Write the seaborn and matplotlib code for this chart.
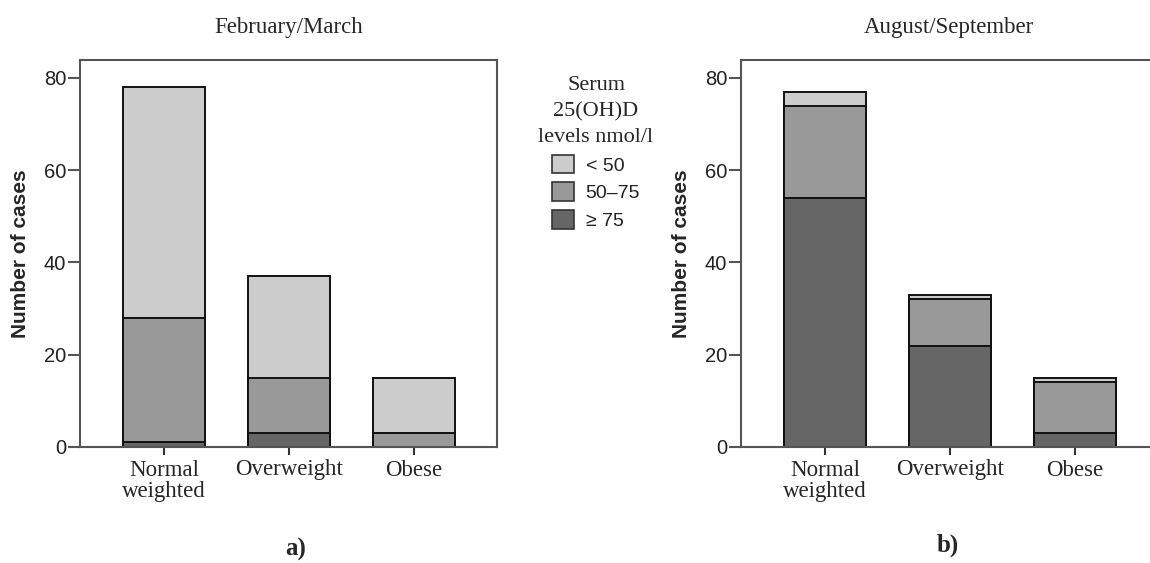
import matplotlib
matplotlib.use("Agg")
import matplotlib.pyplot as plt
from matplotlib.patches import Patch
import seaborn as sns
import pandas as pd
import numpy as np

categories = ["Normal\nweighted", "Overweight", "Obese"]
levels = ["< 50", "50\u201375", "\u2265 75"]

# Feb/March counts
feb_lt50 = [50, 22, 12]
feb_50_75 = [27, 12, 3]
feb_ge75 = [1, 3, 0]

# Aug/September counts
aug_lt50 = [3, 1, 1]
aug_50_75 = [20, 10, 11]
aug_ge75 = [54, 22, 3]

titles = ["February/March", "August/September"]
panel_labels = ["a)", "b)"]

colors = {"< 50": "#cccccc", "50\u201375": "#999999", "\u2265 75": "#666666"}

sns.set_style("white")
plt.rcParams["font.family"] = ["Liberation Sans", "DejaVu Sans"]

fig = plt.figure(figsize=(11.5, 5.63), dpi=100)
W, H = 1150, 563

def add_axes(xl):
    return fig.add_axes([xl / W, (H - 447) / H, 417 / W, 387 / H])

axes = [add_axes(80), add_axes(741)]
centers = [289, 949]

serif = ["Liberation Serif", "DejaVu Serif"]

for ax, title, cx, lt50, mid, ge75 in zip(axes, titles, centers,
                                          [feb_lt50, aug_lt50],
                                          [feb_50_75, aug_50_75],
                                          [feb_ge75, aug_ge75]):
    tot = np.array(lt50) + np.array(mid) + np.array(ge75)
    midtot = np.array(mid) + np.array(ge75)
    df = pd.DataFrame({"cat": categories, "total": tot, "mid": midtot, "low": ge75})
    for col, lvl in [("total", "< 50"), ("mid", "50\u201375"), ("low", "\u2265 75")]:
        sns.barplot(data=df, x="cat", y=col, ax=ax, color=colors[lvl],
                    saturation=1, width=0.65, edgecolor="#111111", linewidth=1.4)
    ax.set_xlim(-0.672, 2.664)
    ax.set_ylim(0, 83.9)
    ax.set_yticks([0, 20, 40, 60, 80])
    ax.set_xlabel("")
    ax.set_ylabel("Number of cases", fontsize=15, fontweight="bold", labelpad=10)
    fig.text(cx / W, 1 - 27 / H, title, ha="center", va="center",
             fontsize=16.5, family=serif)
    for s in ax.spines.values():
        s.set_color("#555555")
        s.set_linewidth(1.5)
    ax.tick_params(axis="y", direction="out", length=9, width=1.5, color="#555555",
                   labelsize=14.5, labelcolor="#222222", pad=1, left=True)
    ax.tick_params(axis="x", direction="out", length=6, width=1.5, color="#333333",
                   labelsize=16.5, pad=3, bottom=True)
    for lab in ax.get_xticklabels():
        lab.set_family(serif)
        lab.set_linespacing(1.0)

fig.text(296 / W, 1 - 549 / H, panel_labels[0], ha="center", va="center",
         fontsize=18, fontweight="bold", family=serif)
fig.text(948 / W, 1 - 545 / H, panel_labels[1], ha="center", va="center",
         fontsize=18, fontweight="bold", family=serif)

handles = [Patch(facecolor=colors[l], edgecolor="#333333", linewidth=1.2, label=l) for l in levels]
leg = fig.legend(handles=handles, loc="upper center", bbox_to_anchor=(596 / W, 1 - 66 / H),
                 title="Serum\n25(OH)D\nlevels nmol/l", frameon=False, fontsize=14,
                 handlelength=1.13, handleheight=1.08, handletextpad=0.6, labelspacing=0.4,
                 borderpad=0.0,
                 title_fontproperties={"family": "Liberation Serif", "size": 16})
leg.get_title().set_multialignment("center")
leg.get_title().set_linespacing(1.5)
for t in leg.get_texts():
    t.set_color("#222222")

fig.savefig("out.png", dpi=100, facecolor="white")
